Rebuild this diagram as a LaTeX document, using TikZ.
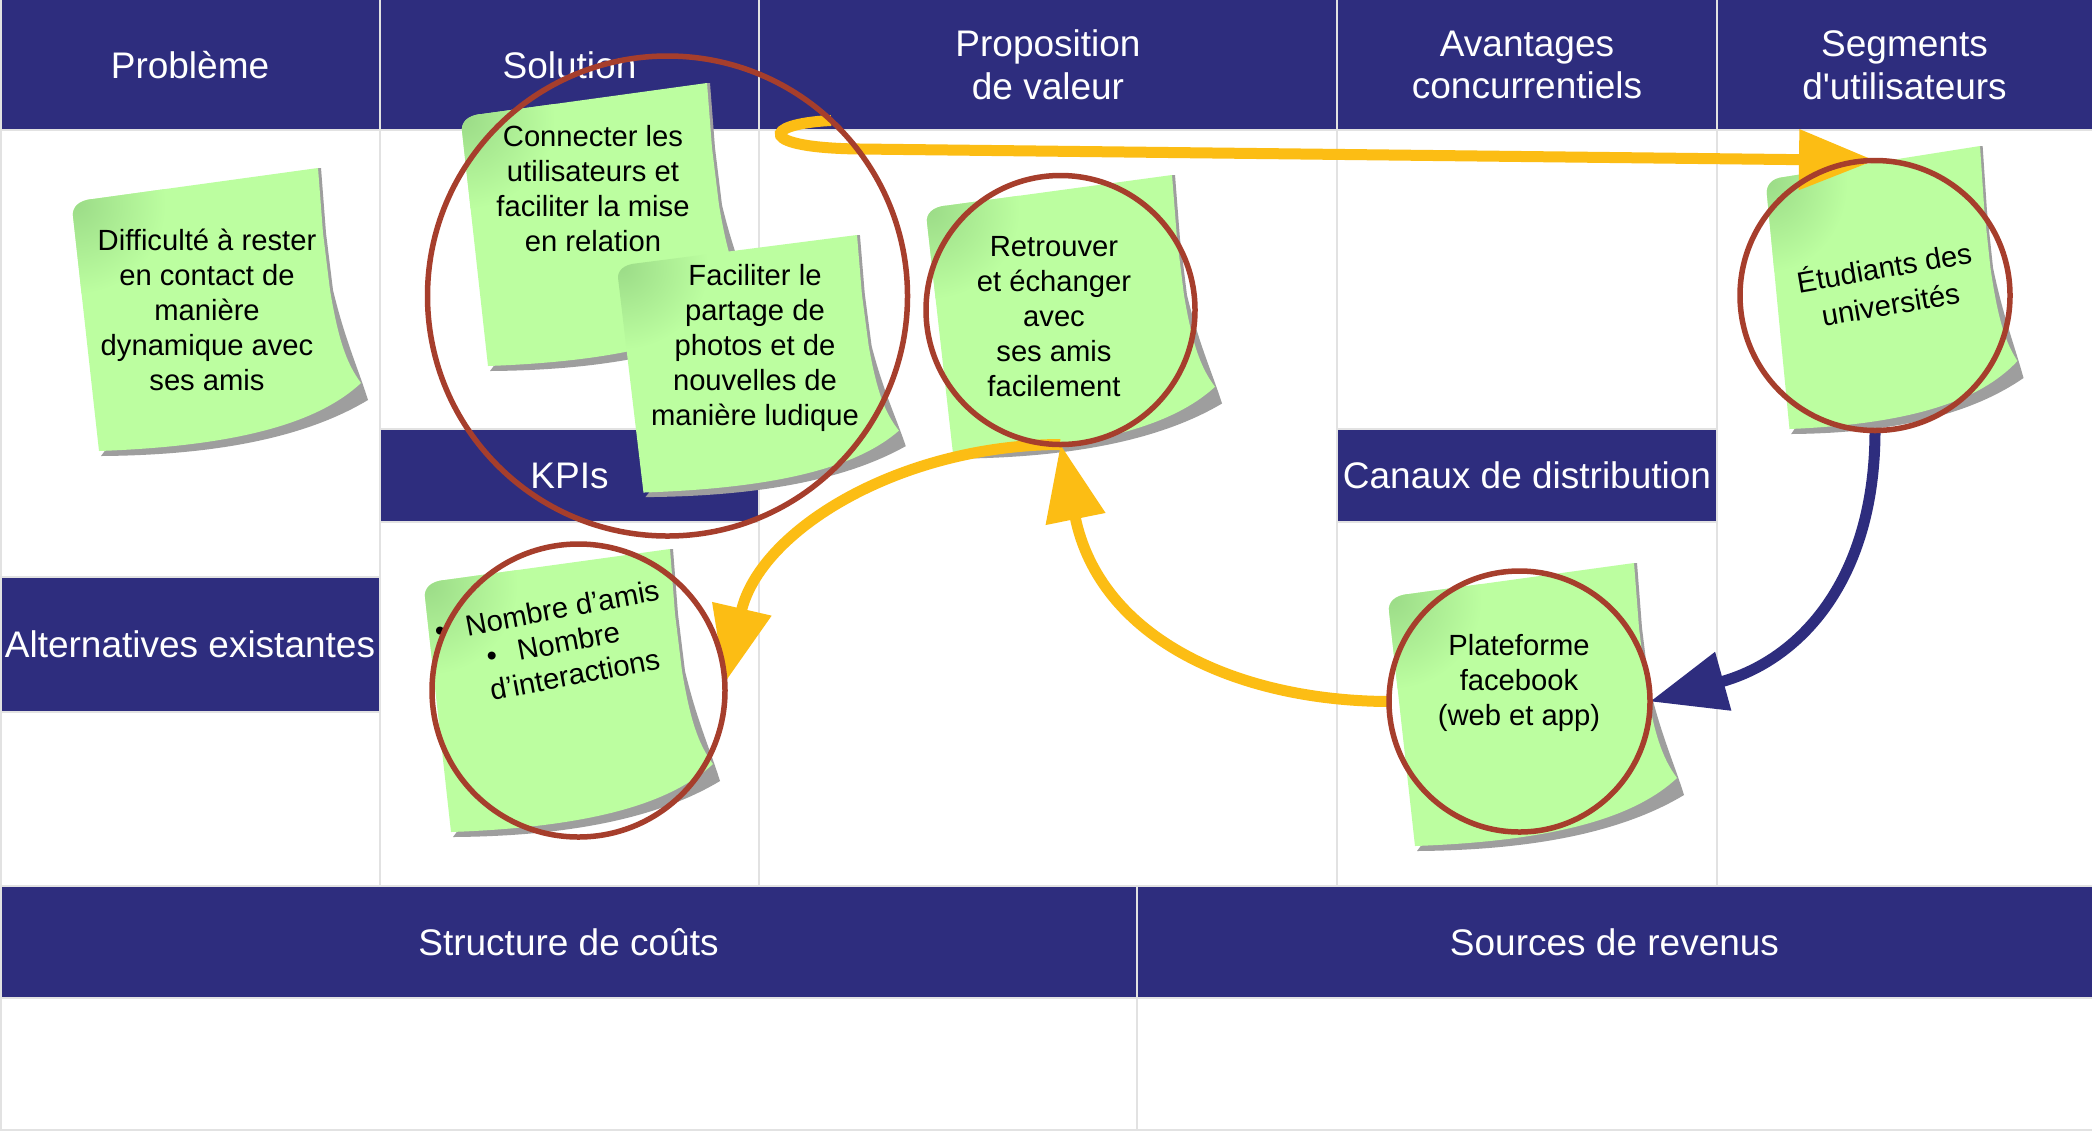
\documentclass[tikz,border=0pt]{standalone}
\usepackage{fontspec}
\setmainfont{Liberation Sans}
\usetikzlibrary{arrows.meta}
\definecolor{hdrblue}{RGB}{46,45,126}
\definecolor{gridgrey}{RGB}{226,226,226}
\definecolor{notegreen}{RGB}{188,254,160}
\definecolor{notedark}{RGB}{156,220,136}
\definecolor{shadowgrey}{RGB}{158,158,158}
\definecolor{ringred}{RGB}{166,62,44}
\definecolor{arrowyellow}{RGB}{252,189,20}

\def\mynotepath{(-245,48) .. controls (-246,40) and (-240,32) .. (-225,31) -- (0,0) -- (5,65) -- (12,122) .. controls (20,170) and (28,195) .. (43,215) .. controls (0,255) and (-80,278) .. (-219,283) -- cycle}
\def\myshadowpath{(0,0) -- (3,0) -- (8,65) -- (15,122) .. controls (27,172) and (40,200) .. (50,232) .. controls (0,262) and (-80,287) .. (-217,288) -- cycle}
\newcommand\stickynote[4]{%
  \begin{scope}[shift={(#1,#2)}, xscale=#3, yscale=#4]
    \fill[shadowgrey] \myshadowpath;
    \fill[notegreen] \mynotepath;
    \begin{scope}
      \clip \mynotepath;
      \shade[inner color=notedark, outer color=notegreen] (-242,36) circle (90);
    \end{scope}
  \end{scope}}

\begin{document}
\begin{tikzpicture}[x=0.5pt,y=-0.5pt,
  band/.style={fill=hdrblue},
  hdr/.style={text=white, font=\fontsize{18.5}{21.4}\selectfont, align=center, inner sep=0pt},
  notetext/.style={text=black, font=\fontsize{14.6}{17.5}\selectfont, align=center, inner sep=0pt},
  ring/.style={circle, draw=ringred, line width=2.75pt, inner sep=0pt, outer sep=0pt},
  flow/.style={line width=5.5pt, -{Triangle[length=38pt,width=29pt]}},
  gridline/.style={draw=gridgrey, line width=1pt}
]
\fill[white] (0,0) rectangle (2092,1131);
\useasboundingbox (0,0) rectangle (2092,1131);

% grid
\draw[gridline] (1,0) -- (1,1130) -- (2092,1130);
\draw[gridline] (380,0) -- (380,886) (759,0) -- (759,886) (1337,0) -- (1337,886) (1717,0) -- (1717,886) (1137,886) -- (1137,1130);
\draw[gridline] (0,130) -- (2092,130)
  (380,429) -- (759,429) (380,522) -- (759,522)
  (1337,429) -- (1717,429) (1337,522) -- (1717,522)
  (0,577) -- (380,577) (0,712) -- (380,712)
  (0,886) -- (2092,886) (0,998) -- (2092,998);

% bands
\fill[band] (2,0) rectangle (379,129);
\fill[band] (381,0) rectangle (758,129);
\fill[band] (760,0) rectangle (1336,129);
\fill[band] (1338,0) rectangle (1716,129);
\fill[band] (1718,0) rectangle (2092,129);
\fill[band] (381,430) rectangle (758,521);
\fill[band] (1338,430) rectangle (1716,521);
\fill[band] (2,578) rectangle (379,711);
\fill[band] (2,887) rectangle (1136,997);
\fill[band] (1138,887) rectangle (2092,997);

\node[hdr, anchor=base] (hProb) at (190,78) {Problème};
\node[hdr, anchor=base] (hSol) at (569.5,78) {Solution};
\node[hdr] (hVal) at (1048,65) {Proposition\\de valeur};
\node[hdr] (hAdv) at (1527,65) {Avantages\\concurrentiels};
\node[hdr] (hSeg) at (1904.5,65) {Segments\\d\textquotesingle utilisateurs};
\node[hdr, anchor=base] (hKpi) at (569.5,488.6) {KPIs};
\node[hdr, anchor=base] (hCan) at (1527,488.6) {Canaux de distribution};
\node[hdr, anchor=base] (hAlt) at (190,657.2) {Alternatives existantes};
\node[hdr, anchor=base] (hCost) at (568.5,955.7) {Structure de coûts};
\node[hdr, anchor=base] (hRev) at (1614.5,955.7) {Sources de revenus};

% sticky notes
\stickynote{318}{168}{1}{1}
\node[notetext] (tProb) at (207,310) {Difficulté à rester\\en contact de\\manière\\dynamique avec\\ses amis};
\stickynote{707}{83}{1}{1}
\node[notetext] (tSolA) at (593,189) {Connecter les\\utilisateurs et\\faciliter la mise\\en relation};
\stickynote{857}{235}{0.975}{0.91}
\node[notetext] (tSolB) at (755,347.5) {Faciliter le\\partage de\\photos et de\\nouvelles de\\manière ludique};
\stickynote{1172}{175}{1}{0.985}
\node[notetext] (tVal) at (1054,316.4) {Retrouver\\et échanger\\avec\\ses amis\\facilement};
\stickynote{1980}{146}{0.87}{1}
\node[notetext, rotate=9.8, font=\fontsize{14.6}{18.6}\selectfont] (tSeg) at (1887,284) {Étudiants des\\universités};
\stickynote{670}{549}{1}{1}
\node[notetext, rotate=10.7, font=\fontsize{14.6}{17}\selectfont] (tKpi) at (568.5,641) {\llap{•\hspace{10.5pt}}Nombre d’amis\\\llap{•\hspace{10.5pt}}Nombre\\d’interactions};
\stickynote{1634}{563}{1}{1}
\node[notetext] (tPlat) at (1519,682.5) {Plateforme\\facebook\\(web et app)};

% ring positions (named nodes used as connector ends)
\path (667.5,296) coordinate (pSol) (1060.5,310) coordinate (pVal) (1875,295.5) coordinate (pSeg)
      (578.5,690.5) coordinate (pKpi) (1519.5,701.5) coordinate (pPlat);
\node[ring, draw=none, minimum size=240pt] (cSol) at (pSol) {};
\node[ring, draw=none, minimum size=134.5pt] (cVal) at (pVal) {};
\node[ring, draw=none, minimum size=135pt] (cSeg) at (pSeg) {};
\node[ring, draw=none, minimum size=146.5pt] (cKpi) at (pKpi) {};
\node[ring, draw=none, minimum size=130.5pt] (cPlat) at (pPlat) {};

% connectors
\draw[flow, arrowyellow] (cSol.47) .. controls (760,124) and (758,148) .. (860,149) -- (cSeg.north);
\draw[flow, arrowyellow] (cVal.south) .. controls (900,445) and (760,530) .. (cKpi.3);
\draw[flow, arrowyellow] (cPlat.west) .. controls (1240,701) and (1100,640) .. (cVal.south);
\draw[flow, hdrblue] (cSeg.south) .. controls (1875,580) and (1800,660) .. (cPlat.east);

% ring outlines on top
\node[ring, minimum size=240pt] (rSol) at (pSol) {};
\node[ring, minimum size=134.5pt] (rVal) at (pVal) {};
\node[ring, minimum size=135pt] (rSeg) at (pSeg) {};
\node[ring, minimum size=146.5pt] (rKpi) at (pKpi) {};
\node[ring, minimum size=130.5pt] (rPlat) at (pPlat) {};
\end{tikzpicture}
\end{document}
